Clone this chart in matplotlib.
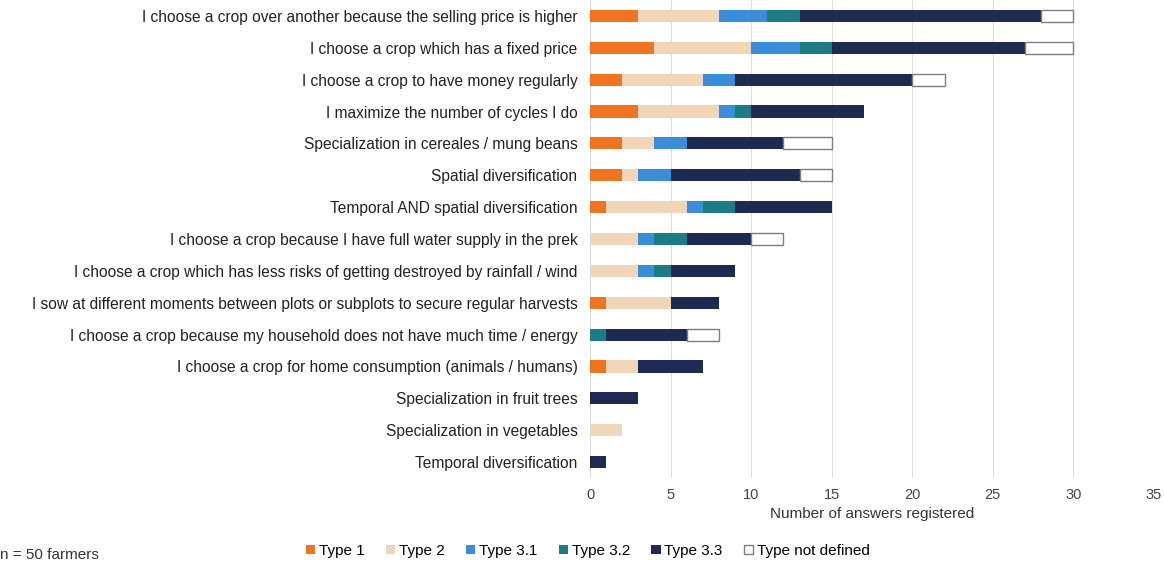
import numpy as np
import matplotlib
matplotlib.use("Agg")
import matplotlib.pyplot as plt

plt.rcParams['font.family'] = ['Liberation Sans', 'DejaVu Sans']

strategies = [
    "I choose a crop over another because the selling price is higher",
    "I choose a crop which has a fixed price",
    "I choose a crop to have money regularly",
    "I maximize the number of cycles I do",
    "Specialization in cereales / mung beans",
    "Spatial diversification",
    "Temporal AND spatial diversification",
    "I choose a crop because I have full water supply in the prek",
    "I choose a crop which has less risks of getting destroyed by rainfall / wind",
    "I sow at different moments between plots or subplots to secure regular harvests",
    "I choose a crop because my household does not have much time / energy",
    "I choose a crop for home consumption (animals / humans)",
    "Specialization in fruit trees",
    "Specialization in vegetables",
    "Temporal diversification",
]

type_1 = [3, 4, 2, 3, 2, 2, 1, 0, 0, 1, 0, 1, 0, 0, 0]
type_2 = [5, 6, 5, 5, 2, 1, 5, 3, 3, 4, 0, 2, 0, 2, 0]
type_31 = [3, 3, 2, 1, 2, 2, 1, 1, 1, 0, 0, 0, 0, 0, 0]
type_32 = [2, 2, 0, 1, 0, 0, 2, 2, 1, 0, 1, 0, 0, 0, 0]
type_33 = [15, 12, 11, 7, 6, 8, 6, 4, 4, 3, 5, 4, 3, 0, 1]
type_nd = [2, 3, 2, 0, 3, 2, 0, 2, 0, 0, 2, 0, 0, 0, 0]

series = [
    ("Type 1", type_1, "#EE7420", "none"),
    ("Type 2", type_2, "#F1D6BC", "none"),
    ("Type 3.1", type_31, "#3A8DD6", "none"),
    ("Type 3.2", type_32, "#1B7C88", "none"),
    ("Type 3.3", type_33, "#1E2A52", "none"),
    ("Type not defined", type_nd, "white", "#7F7F7F"),
]

fig = plt.figure(figsize=(11.64, 5.62), dpi=100)
ax = fig.add_axes([0.5069, 0.1495, 0.4845, 0.8505])

y = np.arange(len(strategies))
left = np.zeros(len(strategies))
for name, vals, col, edge in series:
    vals = np.array(vals, dtype=float)
    keep = vals > 0
    ax.barh(y[keep], vals[keep], left=left[keep], height=0.38, color=col,
            edgecolor=edge, linewidth=1.0 if edge != "none" else 0,
            label=name, zorder=3)
    left += vals

ax.set_ylim(len(strategies) - 0.5, -0.5)
ax.set_xlim(0, 35)
ax.set_xticks(np.arange(0, 36, 5))
ax.set_yticks(y)
ax.set_yticklabels(strategies, fontsize=11.2, color="#222222")
ax.tick_params(axis='x', labelsize=10.5, colors="#444444", length=0, pad=7)
ax.tick_params(axis='y', length=0, pad=9)
ax.grid(axis='x', color="#DDDDDD", linewidth=0.8, zorder=0)
for s in ax.spines.values():
    s.set_visible(False)
ax.set_xlabel("Number of answers registered", fontsize=11, color="#333333", labelpad=4)

fig.legend(loc="center", bbox_to_anchor=(0.505, 0.02), ncol=6, frameon=False,
           fontsize=11, handlelength=0.6, handleheight=0.6, handletextpad=0.25,
           columnspacing=1.4)
fig.text(0.0, 0.006, "n = 50 farmers", fontsize=11, color="#333333")

fig.savefig("out.png", dpi=100)
